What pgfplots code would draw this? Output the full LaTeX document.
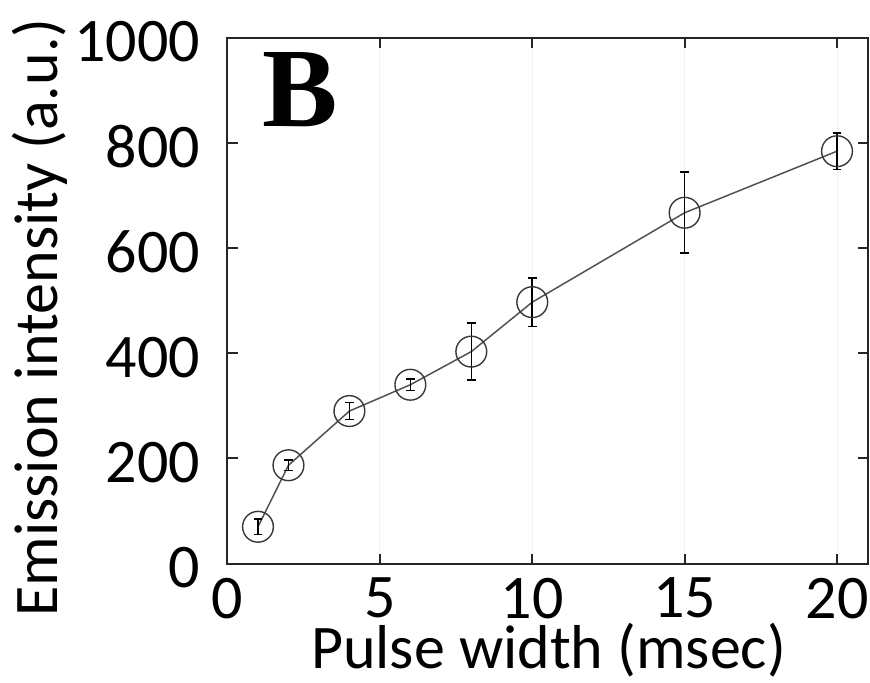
\documentclass[border=0pt]{standalone}
\usepackage{pgfplots}
\pgfplotsset{compat=1.18}
\usepackage{fontspec}
\setmainfont{Carlito}
\newfontfamily\serifbold{Liberation Serif}
\begin{document}
\begin{tikzpicture}
\begin{axis}[
  scale only axis,
  width=320pt, height=263pt,
  xmin=0, xmax=21, ymin=0, ymax=1000,
  xtick={0,5,10,15,20}, ytick={0,200,400,600,800,1000},
  tick align=inside, major tick length=5pt,
  tick style={black!85, line width=0.9pt},
  axis line style={black!85, line width=1pt},
  xmajorgrids, grid style={black!6, line width=0.5pt},
  /pgf/number format/assume math mode=true,
  /pgf/number format/1000 sep={},
  ticklabel style={font=\fontsize{31}{36}\selectfont, inner sep=0pt},
  xticklabel style={anchor=north, yshift=-7pt},
  yticklabel style={anchor=east, xshift=-13.5pt, yshift=-2pt},
  clip=false,
]
\addplot[black!68, line width=0.75pt, mark=o,
  mark options={mark size=7.7pt, line width=0.7pt, black!78},
  error bars/.cd, y dir=both, y explicit,
  error bar style={black, line width=0.8pt},
  error mark options={black, rotate=90, mark size=2.2pt, line width=0.8pt}]
table[x=x, y=y, y error=e] {
x y e
1 70 15
2 187 10
4 290 16
6 340 11
8 403 54
10 497 46
15 667 77
20 784 35
};
\node[anchor=south west, inner sep=0pt, font=\serifbold\bfseries\fontsize{56.5}{60}\selectfont] at (axis cs:1.12,830) {B};
\node[anchor=base, inner sep=0pt, font=\fontsize{31}{36}\selectfont]
  at ([yshift=-52.3pt]axis description cs:0.5016,0) {Pulse width (msec)};
\node[anchor=base, rotate=90, inner sep=0pt, font=\fontsize{31}{36}\selectfont]
  at ([xshift=-84.75pt]axis description cs:0,0.468) {Emission intensity (a.u.)};
\end{axis}
\pgfresetboundingbox
\path[use as bounding box] ([shift={(-113.75pt,-59.7pt)}]current axis.south west) rectangle ++(435pt,341.5pt);
\end{tikzpicture}
\end{document}
